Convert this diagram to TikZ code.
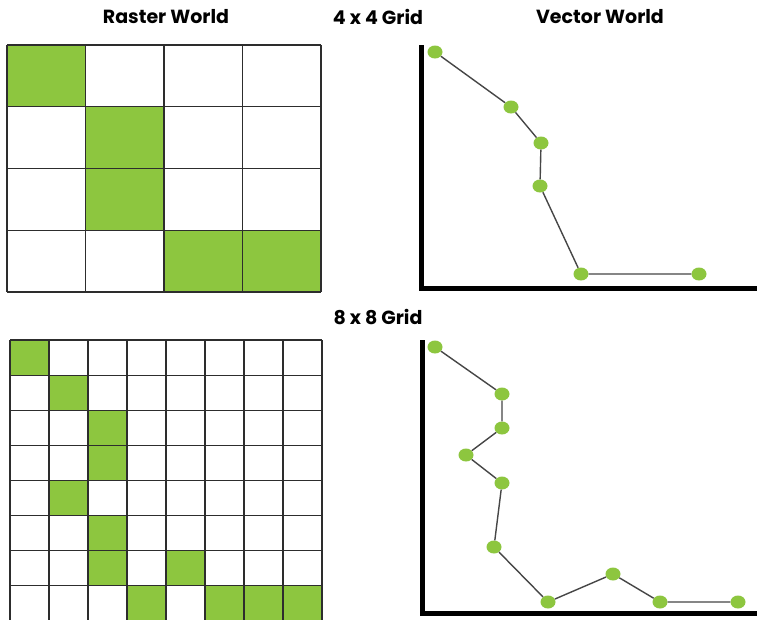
\documentclass[tikz,border=0pt]{standalone}
\usepackage{fontspec}
\setmainfont{Poppins}
\usetikzlibrary{shapes.geometric}
\definecolor{leaf}{RGB}{141,198,63}
\definecolor{gridgray}{RGB}{45,45,45}
\definecolor{seggray}{RGB}{70,70,70}
\tikzset{
  cellfill/.style={fill=leaf,draw=none},
  gridln/.style={draw=gridgray,line width=1.1pt},
  axisln/.style={draw=black,line width=5pt},
  vpt/.style={ellipse,fill=leaf,draw=none,minimum width=15pt,minimum height=13pt,inner sep=0pt},
  seg/.style={draw=seggray,line width=1.4pt},
  title/.style={font=\bfseries\fontsize{19}{22}\selectfont,inner sep=0pt}
}
\begin{document}
\begin{tikzpicture}[x=1pt,y=-1pt]
\useasboundingbox[fill=white] (0,0) rectangle (757,619);
\node[title] (rasterlbl) at (166,17) {Raster World};
\node[title] (grida) at (378,17) {4 x 4 Grid};
\node[title] (vectorlbl) at (600,17) {Vector World};
\node[title] (gridb) at (378,317) {8 x 8 Grid};
\foreach \r/\c in {0/0,1/1,2/1,3/2,3/3}
  \fill[cellfill] ({7+78.5*\c},{45+61.75*\r}) rectangle ++(78.5,61.75);
\foreach \i in {0,...,4}{
  \draw[gridln] ({7+78.5*\i},45) -- ++(0,247);
  \draw[gridln] (7,{45+61.75*\i}) -- ++(314,0);
}
\foreach \r/\c in {0/0,1/1,2/2,3/2,4/1,5/2,6/2,6/4,7/3,7/5,7/6,7/7}
  \fill[cellfill] ({10+39*\c},{340+35.1*\r}) rectangle ++(39,35.1);
\foreach \i in {0,...,8}{
  \draw[gridln] ({10+39*\i},340) -- ++(0,281);
  \draw[gridln] (10,{340+35.1*\i}) -- ++(312,0);
}
\draw[axisln] (421,45) |- (757,288);
\draw[axisln] (422,340) |- (757,613);
\node[vpt] (ta) at (435,52) {};
\node[vpt] (tb) at (511,107) {};
\node[vpt] (tc) at (541,143) {};
\node[vpt] (td) at (540,186) {};
\node[vpt] (te) at (581,274) {};
\node[vpt] (tf) at (699,274) {};
\draw[seg] (ta)--(tb)--(tc)--(td)--(te)--(tf);
\node[vpt] (ba) at (435,347) {};
\node[vpt] (bb) at (502,394) {};
\node[vpt] (bc) at (502,428) {};
\node[vpt] (bd) at (466,455) {};
\node[vpt] (be) at (502,483) {};
\node[vpt] (bf) at (494,547) {};
\node[vpt] (bg) at (548,602) {};
\node[vpt] (bh) at (613,574) {};
\node[vpt] (bi) at (660,602) {};
\node[vpt] (bj) at (738,602) {};
\draw[seg] (ba)--(bb)--(bc)--(bd)--(be)--(bf)--(bg)--(bh)--(bi)--(bj);
\end{tikzpicture}
\end{document}
